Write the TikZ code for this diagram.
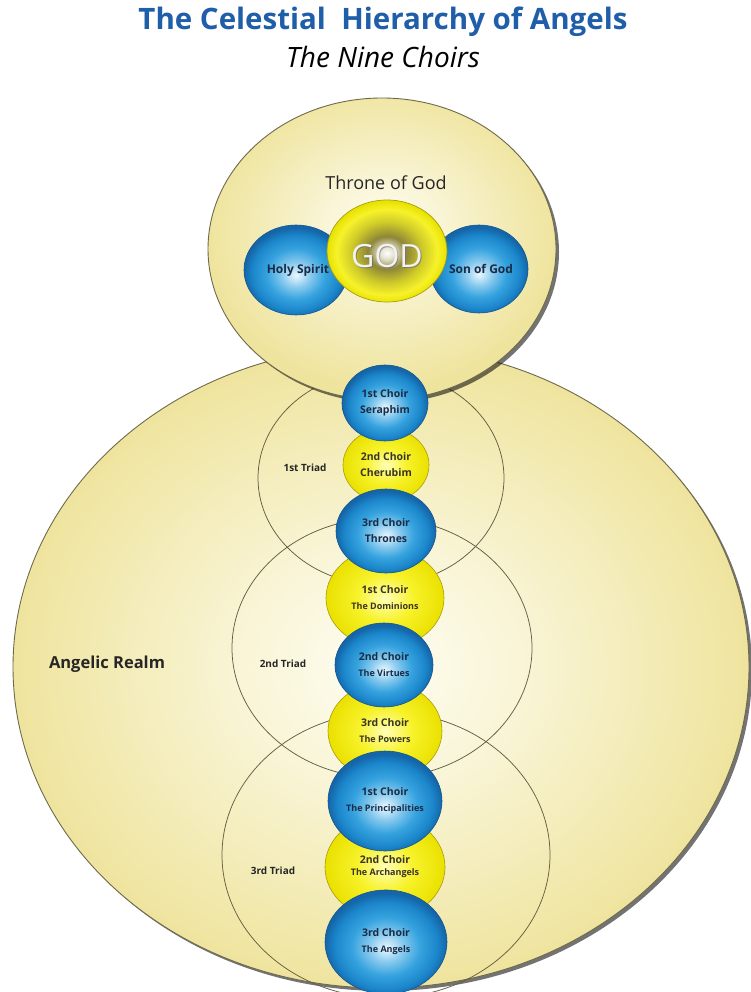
\documentclass[tikz,border=0pt]{standalone}
\usepackage{fontspec}
\setmainfont{Open Sans}
\usetikzlibrary{shapes.geometric,shadows}
\definecolor{titleblue}{HTML}{1F5EA8}
\definecolor{bL}{HTML}{EAF8FF}
\definecolor{bM}{HTML}{36A3DF}
\definecolor{bE}{HTML}{1B86CB}
\definecolor{bD}{HTML}{1566A8}
\definecolor{yC}{HTML}{FFFFB8}
\definecolor{yM}{HTML}{F7F22A}
\definecolor{yE}{HTML}{EAE100}
\definecolor{yLine}{HTML}{A89C10}
\definecolor{gB}{HTML}{8E8638}
\definecolor{gC}{HTML}{CFCB2A}
\definecolor{gE}{HTML}{E8E200}
\definecolor{rC}{HTML}{FEFDF2}
\definecolor{rE}{HTML}{EFE49E}
\definecolor{rLine}{HTML}{6E6A4A}
\definecolor{navy}{HTML}{1B2B45}
\definecolor{olivetxt}{HTML}{3A3520}
\pgfdeclareradialshading{bluesph}{\pgfpoint{0bp}{-3bp}}{color(0bp)=(bL); color(7bp)=(bL!45!bM); color(14bp)=(bM); color(21bp)=(bE); color(25bp)=(bD); color(50bp)=(bD)}
\pgfdeclareradialshading{yelsph}{\pgfpoint{0bp}{0bp}}{color(0bp)=(yC); color(12bp)=(yM); color(25bp)=(yE); color(50bp)=(yE)}
\pgfdeclareradialshading{godsph}{\pgfpoint{0bp}{-1bp}}{color(0bp)=(white); color(3bp)=(white!75!gB); color(8bp)=(gB); color(15bp)=(gC); color(21bp)=(yM); color(25bp)=(gE); color(50bp)=(gE)}
\pgfdeclareradialshading{realmsh}{\pgfpoint{0bp}{0bp}}{color(0bp)=(rC); color(10bp)=(rC!65!rE); color(25bp)=(rE); color(50bp)=(rE)}
\pgfdeclareradialshading{thronesh}{\pgfpoint{0bp}{4bp}}{color(0bp)=(rC); color(10bp)=(rC!60!rE); color(25bp)=(rE); color(50bp)=(rE)}
\tikzset{
  realmshape/.style={ellipse, inner sep=0pt, shading=realmsh, draw=rLine, line width=0.9pt,
    drop shadow={shadow xshift=3pt, shadow yshift=-3pt, fill=black, opacity=0.55}},
  triad/.style={ellipse, inner sep=0pt, draw=rLine!90!black, line width=0.75pt},
  bluechoir/.style={ellipse, inner sep=0pt, shading=bluesph, draw=bD!85!black, line width=0.6pt,
    text=navy, align=center, font=\bfseries\fontsize{10.5}{16}\selectfont},
  yelchoir/.style={ellipse, inner sep=0pt, shading=yelsph, draw=yLine, line width=0.6pt,
    text=olivetxt, align=center, font=\bfseries\fontsize{10.5}{16}\selectfont},
  lbl/.style={text=black!85, font=\bfseries\fontsize{10}{12}\selectfont}
}
\newcommand{\smalltwo}{\fontsize{9}{11}\selectfont}
\begin{document}
\begin{tikzpicture}[x=1pt,y=-1pt]
\useasboundingbox (0,0) rectangle (750,992);
\fill[white] (0,0) rectangle (750,992);
% titles
\node (title) at (383,22) {\fontsize{29.5}{32}\selectfont\bfseries\color{titleblue}The Celestial\ \ Hierarchy of Angels};
\node (subtitle) at (383,57) {\fontsize{28}{30}\selectfont\itshape The Nine Choirs};
% angelic realm
\node[realmshape, minimum width=736pt, minimum height=642pt] (realm) at (381,667) {};
\node[text=black!85, font=\bfseries\fontsize{16.5}{18}\selectfont] (realmlbl) at (107,664) {Angelic Realm};
% triads
\node[triad, minimum width=328pt, minimum height=286pt] (t3) at (386,855) {};
\node[triad, minimum width=300pt, minimum height=260pt] (t2) at (382,648) {};
\node[triad, minimum width=246pt, minimum height=214pt] (t1) at (381,478) {};
\node[lbl] (t1lbl) at (305,468) {1st Triad};
\node[lbl] (t2lbl) at (283,664) {2nd Triad};
\node[lbl] (t3lbl) at (273,871) {3rd Triad};
% throne
\node[realmshape, shading=thronesh, minimum width=348pt, minimum height=302pt] (throne) at (382,249) {};
\node[text=black!85, font=\fontsize{18}{20}\selectfont] (thronelbl) at (386,183) {Throne of God};
\node[bluechoir, minimum width=104pt, minimum height=90pt, font=\bfseries\fontsize{12}{14}\selectfont] (spirit) at (296,270) {\hspace*{4pt}Holy Spirit};
\node[bluechoir, minimum width=98pt, minimum height=88pt, font=\bfseries\fontsize{12}{14}\selectfont] (son) at (479,269) {\hspace*{4pt}Son of God};
\node[ellipse, inner sep=0pt, shading=godsph, draw=yLine, line width=0.7pt, minimum width=120pt, minimum height=102pt] (god) at (387,251) {};
\node[text=black!60, opacity=0.6, font=\fontsize{32}{34}\selectfont] (godshade) at (387.8,256.8) {GOD};
\node[text=white!90!gray, font=\fontsize{32}{34}\selectfont] (godtxt) at (387,256) {GOD};
% choirs: yellow first
\node[yelchoir, minimum width=86pt, minimum height=74pt] (cherubim) at (386,465) {2nd Choir\\Cherubim};
\node[yelchoir, minimum width=118pt, minimum height=100pt] (dominions) at (385,598) {1st Choir\\{\smalltwo The Dominions}};
\node[yelchoir, minimum width=114pt, minimum height=98pt] (powers) at (385,731) {3rd Choir\\{\smalltwo The Powers}};
\node[yelchoir, minimum width=120pt, minimum height=104pt, font=\bfseries\fontsize{10.5}{12}\selectfont] (archangels) at (385,867) {2nd Choir\\{\smalltwo The Archangels}};
% blue choirs
\node[bluechoir, minimum width=86pt, minimum height=76pt] (seraphim) at (385,403) {1st Choir\\Seraphim};
\node[bluechoir, minimum width=100pt, minimum height=84pt] (thrones) at (386,531) {3rd Choir\\Thrones};
\node[bluechoir, minimum width=98pt, minimum height=84pt] (virtues) at (384,665) {2nd Choir\\{\smalltwo The Virtues}};
\node[bluechoir, minimum width=114pt, minimum height=100pt] (principalities) at (385,801) {1st Choir\\{\smalltwo The Principalities}};
\node[bluechoir, minimum width=122pt, minimum height=104pt] (angels) at (386,942) {3rd Choir\\{\smalltwo The Angels}};
\end{tikzpicture}
\end{document}
